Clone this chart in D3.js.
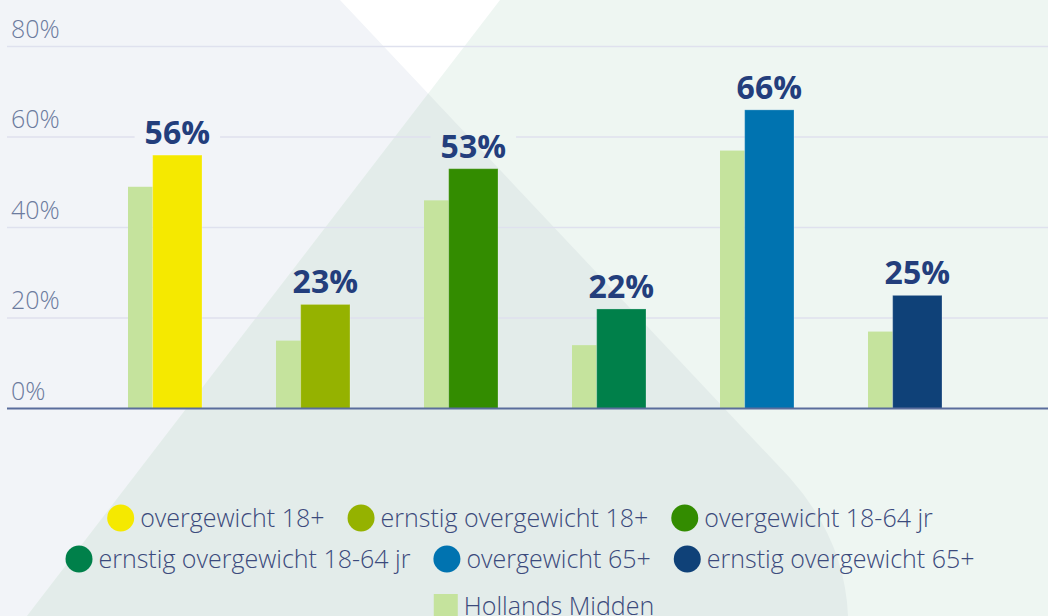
<!DOCTYPE html>
<html>
<head>
<meta charset="utf-8">
<script src="https://cdn.jsdelivr.net/npm/d3@7"></script>
<style>
  html, body { margin: 0; padding: 0; background: #fff; }
  svg { display: block; font-family: "Open Sans", "Noto Sans", sans-serif; }
</style>
</head>
<body>
<svg id="chart" width="1048" height="616"></svg>
<script>
// data
const categories = ["overgewicht 18+", "ernstig overgewicht 18+", "overgewicht 18-64 jr",
  "ernstig overgewicht 18-64 jr", "overgewicht 65+", "ernstig overgewicht 65+"];
const regionValues = [56, 23, 53, 22, 66, 25];
const hollandsMidden = [49, 15, 46, 14, 57, 17];
const barColors = ["#f5e900", "#95b200", "#338c00", "#00804a", "#0073b0", "#0f4178"];
const refLabel = "Hollands Midden";
const refColor = "#c5e39d";
const yTicks = [0, 20, 40, 60, 80];
const legendRows = [[0, 1, 2], [3, 4, 5], ["ref"]];

const W = 1048, H = 616;
const svg = d3.select("#chart");

// background shapes
const defs = svg.append("defs");
const greyPath = "M0,0 L340,0 L790,478 Q845,540 848,616 L0,616 Z";
const greenPath = "M500,0 L1048,0 L1048,616 L27,616 Z";
defs.append("clipPath").attr("id", "greyClip").append("path").attr("d", greyPath);

const bg = svg.append("g");
bg.append("rect").attr("width", W).attr("height", H).attr("fill", "#ffffff");
bg.append("path").attr("d", greyPath).attr("fill", "#f2f4f8");
bg.append("path").attr("d", greenPath).attr("fill", "#eef6f2");
bg.append("path").attr("d", greenPath).attr("fill", "#e3ecea").attr("clip-path", "url(#greyClip)");

// scales
const x = d3.scaleBand().domain(categories).range([91, 979]).paddingInner(0.5).paddingOuter(0.25);
const y = d3.scaleLinear().domain([0, 80]).range([408.5, 46.5]);
const bw = x.bandwidth();
const refW = bw / 3, mainW = bw - refW;

// gridlines (masked where value labels sit)
const mask = defs.append("mask").attr("id", "gridMask");
mask.append("rect").attr("width", W).attr("height", H).attr("fill", "#fff");

const grid = svg.append("g").attr("mask", "url(#gridMask)");
grid.selectAll("line")
  .data(yTicks.filter(d => d > 0))
  .join("line")
  .attr("x1", 7).attr("x2", W)
  .attr("y1", d => y(d)).attr("y2", d => y(d))
  .attr("stroke", "#dfe1ee").attr("stroke-width", 1.5);

// tick labels
svg.append("g").selectAll("text")
  .data(yTicks)
  .join("text")
  .attr("x", 11)
  .attr("y", d => y(d) - 9)
  .attr("font-size", 25).attr("font-weight", 300)
  .attr("fill", "#6c7b9e")
  .text(d => d + "%");

// bars
const groups = svg.append("g").selectAll("g")
  .data(categories)
  .join("g")
  .attr("transform", d => `translate(${x(d)},0)`);

groups.append("rect")
  .attr("x", 0).attr("width", refW)
  .attr("y", (d, i) => y(hollandsMidden[i]))
  .attr("height", (d, i) => y(0) - y(hollandsMidden[i]))
  .attr("fill", refColor);

groups.append("rect")
  .attr("x", refW).attr("width", mainW)
  .attr("y", (d, i) => y(regionValues[i]))
  .attr("height", (d, i) => y(0) - y(regionValues[i]))
  .attr("fill", (d, i) => barColors[i])
  .attr("stroke", "rgba(255,255,255,0.25)").attr("stroke-width", 1);

const labels = groups.append("text")
  .attr("x", refW + mainW / 2)
  .attr("y", (d, i) => y(regionValues[i]) - 11)
  .attr("text-anchor", "middle")
  .attr("font-size", 32).attr("font-weight", 700)
  .attr("fill", "#233e7c")
  .text((d, i) => regionValues[i] + "%");

// punch holes in the gridlines behind the value labels
labels.each(function (d) {
  const b = this.getBBox();
  mask.append("rect")
    .attr("x", x(d) + b.x - 10).attr("y", b.y)
    .attr("width", b.width + 20).attr("height", b.height)
    .attr("fill", "#000");
});

// axis line
svg.append("line")
  .attr("x1", 7).attr("x2", W)
  .attr("y1", y(0)).attr("y2", y(0))
  .attr("stroke", "#5a6d9c").attr("stroke-width", 2);

// legend
const legend = svg.append("g");
const rowY = [518, 559, 606];
const rowCenter = [520, 520, 544];
const markSize = 27, markGap = 6, itemGap = 23;

legendRows.forEach((row, r) => {
  const items = row.map(k => {
    const g = legend.append("g");
    if (k === "ref") {
      g.append("rect").attr("x", 0).attr("y", -12).attr("width", 24).attr("height", 24).attr("fill", refColor);
    } else {
      g.append("circle").attr("cx", markSize / 2).attr("cy", 0).attr("r", markSize / 2).attr("fill", barColors[k]);
    }
    const t = g.append("text")
      .attr("x", (k === "ref" ? 24 : markSize) + markGap)
      .attr("y", 9)
      .attr("font-size", 25).attr("font-weight", 300)
      .attr("fill", "#3b4a7c")
      .text(k === "ref" ? refLabel : categories[k]);
    const w = (k === "ref" ? 24 : markSize) + markGap + t.node().getComputedTextLength();
    return { g, w };
  });
  const total = d3.sum(items, d => d.w) + itemGap * (items.length - 1);
  let cx = rowCenter[r] - total / 2;
  items.forEach(it => {
    it.g.attr("transform", `translate(${cx},${rowY[r]})`);
    cx += it.w + itemGap;
  });
});
</script>
</body>
</html>
